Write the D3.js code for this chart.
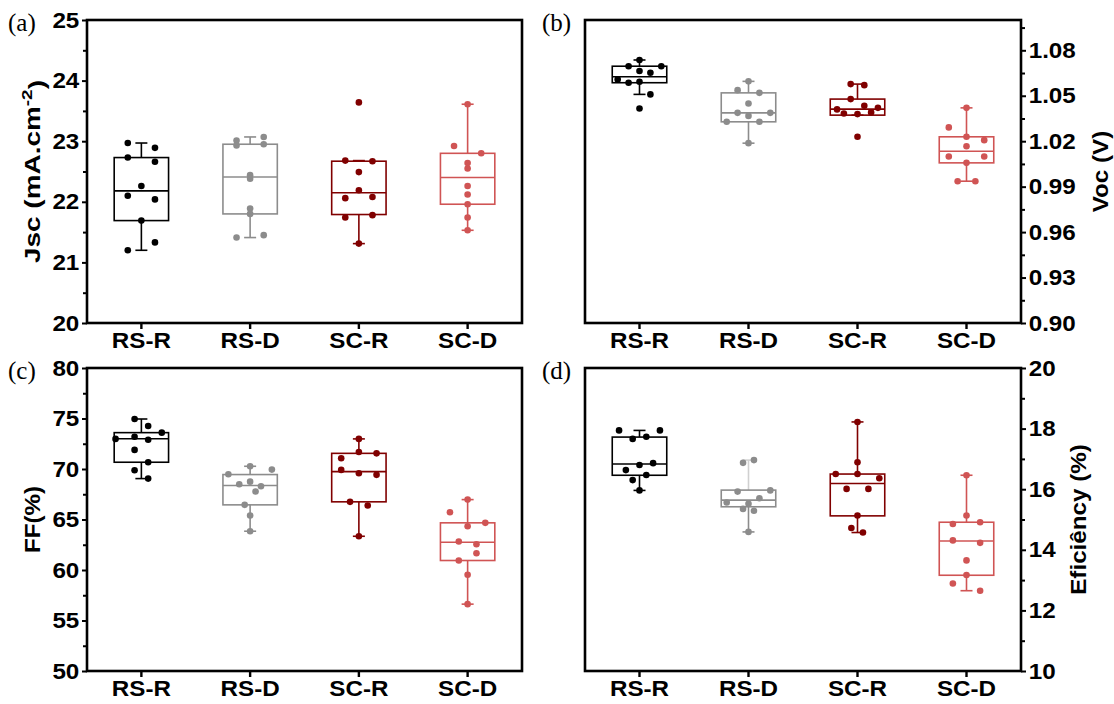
<!DOCTYPE html>
<html>
<head>
<meta charset="utf-8">
<script src="https://cdn.jsdelivr.net/npm/d3@7"></script>
<style>
  body { margin: 0; background: #fff; }
  svg text { font-family: "Liberation Sans", Arial, sans-serif; }
</style>
</head>
<body>
<svg id="chart" width="1114" height="704"></svg>
<script>
// ---- data ----------------------------------------------------------------
const categories = ["RS-R", "RS-D", "SC-R", "SC-D"];
const groupColors = ["#000000", "#8c8c8c", "#800000", "#d05454"];

// box statistics per category: [whisker low, Q1, median, Q3, whisker high]
// point lanes: horizontal slot of each dot inside its category (overlap spread)

// (a) short-circuit current density
const jscValues = [
  [22.97, 22.89, 22.73, 22.66, 22.26, 22.10, 22.04, 21.69, 21.33, 21.20],
  [23.01, 22.93, 23.07, 22.95, 22.44, 22.38, 21.89, 21.80, 21.41, 21.45],
  [23.64, 22.68, 22.67, 22.49, 22.19, 22.06, 22.08, 21.74, 21.78, 21.31],
  [23.61, 22.92, 22.80, 22.64, 22.55, 22.26, 22.12, 21.96, 21.74, 21.53]
];
const jscLanes = [
  [-2, 2, -2, 2, 0, -2, 2, 0, 2, -2],
  [-2, -2, 2, 2, 0, 0, 0, 0, -2, 2],
  [0, -2, 2, 0, 0, -2, 2, -2, 2, 0],
  [0, -2, 2, 0, 0, 0, 0, 0, 0, 0]
];
const jscBoxes = [
  [21.20, 21.69, 22.18, 22.73, 22.97],
  [21.41, 21.80, 22.41, 22.95, 23.07],
  [21.31, 21.79, 22.15, 22.67, 22.68],
  [21.53, 21.96, 22.40, 22.80, 23.61]
];

// (b) open-circuit voltage
const vocValues = [
  [1.0736, 1.0695, 1.0695, 1.0663, 1.0652, 1.0608, 1.0586, 1.0592, 1.0509, 1.0416],
  [1.0595, 1.0537, 1.0519, 1.0449, 1.0387, 1.0387, 1.0367, 1.0328, 1.0328, 1.0187],
  [1.0577, 1.0570, 1.0478, 1.0410, 1.0434, 1.0420, 1.0383, 1.0379, 1.0390, 1.0229],
  [1.0420, 1.0291, 1.0229, 1.0207, 1.0167, 1.0099, 1.0099, 1.0057, 0.9936, 0.9936]
];
const vocLanes = [
  [0, -1.6, 3.2, 0, 1.6, -3.2, -1.6, 0, 1.6, 0],
  [0, -1.6, 1.6, 0, -1.6, 3.2, 0, -3.2, 1.6, 0],
  [-1, 1, -1, -3, 1, 3, -2, 0, 2, 0],
  [0, -2.6, 0, 2.6, 0, -2.6, 2.6, 0, -1.3, 1.3]
];
const vocBoxes = [
  [1.0509, 1.0586, 1.0625, 1.0695, 1.0736],
  [1.0187, 1.0328, 1.0387, 1.0519, 1.0595],
  [1.0372, 1.0372, 1.0412, 1.0478, 1.0577],
  [0.9936, 1.0057, 1.0134, 1.0229, 1.0420]
];

// (c) fill factor
const ffValues = [
  [74.95, 74.26, 73.60, 72.98, 73.20, 72.90, 71.89, 70.67, 69.87, 69.05],
  [70.27, 69.48, 69.94, 68.49, 68.75, 68.29, 67.77, 66.45, 65.39, 63.84],
  [72.98, 71.69, 71.55, 71.06, 69.91, 69.58, 69.42, 66.75, 66.38, 63.34],
  [66.97, 65.72, 64.67, 64.33, 62.82, 62.55, 61.66, 60.94, 59.53, 56.62]
];
const ffLanes = [
  [-1, 1, 3, -3.8, -1, 1, -1, 1, -1, 1],
  [0, -3.2, 3.2, -1.6, 0, 1.6, 0.8, -0.8, 0, 0],
  [0, 0, 2.6, -2.6, -2.6, 0, 2.6, -1.3, 1.3, 0],
  [0, -2.6, 2.6, 0, -1.3, 1.3, 1.3, -1.3, 0, 0]
];
const ffBoxes = [
  [69.05, 70.67, 73.00, 73.60, 74.95],
  [63.84, 66.45, 68.36, 69.45, 70.27],
  [63.34, 66.75, 69.74, 71.55, 72.98],
  [56.62, 60.94, 62.75, 64.67, 66.97]
];

// (d) power conversion efficiency
const effValues = [
  [17.94, 17.94, 17.66, 17.73, 16.86, 16.80, 16.63, 16.47, 16.30, 15.96],
  [16.87, 16.96, 15.92, 15.96, 15.70, 15.56, 15.52, 15.35, 15.29, 14.59],
  [18.22, 16.89, 16.50, 16.50, 16.36, 16.01, 16.01, 15.13, 14.72, 14.57],
  [16.46, 15.13, 14.85, 14.91, 14.31, 14.23, 13.65, 13.17, 12.89, 12.65]
];
const effLanes = [
  [-3, 3, -1, 1, 2, 0, -2, 1, -1, 0],
  [-0.8, 0.8, -1.6, 3.2, 1.6, -3.2, 0, -0.8, 0.8, 0],
  [0, 0, -3.2, 0, 3.2, -1.6, 1.6, 0, -0.9, 0.8],
  [0, 0, -2, 2, -2, 2, 0, 0, -2, 2]
];
const effBoxes = [
  [15.96, 16.46, 16.83, 17.72, 17.94],
  [14.59, 15.42, 15.64, 15.97, 16.96],
  [14.57, 15.12, 16.19, 16.50, 18.22],
  [12.65, 13.16, 14.29, 14.91, 16.46]
];

// axis ticks
const jscTicks = [20, 21, 22, 23, 24, 25];
const vocTicks = [0.90, 0.93, 0.96, 0.99, 1.02, 1.05, 1.08];
const ffTicks = [50, 55, 60, 65, 70, 75, 80];
const effTicks = [10, 12, 14, 16, 18, 20];

// ---- drawing -------------------------------------------------------------
const svg = d3.select("#chart");
const FONT = 22, STRETCH = 1.1;

const panels = [
  { tag: "(a)", tagX: 8, tagY: 31, left: 87, right: 522, top: 20, bottom: 323, side: "left",
    domain: [20, 25], ticks: jscTicks, minorStep: 0.5, fmt: d3.format("d"),
    values: jscValues, lanes: jscLanes, boxes: jscBoxes,
    title: ["Jsc (mA.cm", "-2", ")"], titleX: 32, titleStretch: 1.27 },
  { tag: "(b)", tagX: 542, tagY: 31, left: 585, right: 1021, top: 20, bottom: 323, side: "right",
    domain: [0.90, 1.10], ticks: vocTicks, minorStep: 0.015, fmt: d3.format(".2f"),
    values: vocValues, lanes: vocLanes, boxes: vocBoxes,
    title: ["Voc (V)"], titleX: 1100, titleStretch: 1.1 },
  { tag: "(c)", tagX: 8, tagY: 379, left: 87, right: 522, top: 368, bottom: 671, side: "left",
    domain: [50, 80], ticks: ffTicks, minorStep: 2.5, fmt: d3.format("d"),
    values: ffValues, lanes: ffLanes, boxes: ffBoxes,
    title: ["FF(%)"], titleX: 32, titleStretch: 1.1 },
  { tag: "(d)", tagX: 542, tagY: 379, left: 585, right: 1021, top: 368, bottom: 671, side: "right",
    domain: [10, 20], ticks: effTicks, minorStep: 1, fmt: d3.format("d"),
    values: effValues, lanes: effLanes, boxes: effBoxes,
    title: ["Eficiêncy (%)"], titleX: 1078, titleStretch: 1.1,
    fadedUpper: 1 }
];

function stretchText(sel) {
  sel.selectAll("text")
    .attr("transform", `scale(${STRETCH},1)`)
    .style("font-size", FONT + "px")
    .style("font-weight", "bold")
    .attr("fill", "#000");
}

panels.forEach(p => {
  const g = svg.append("g");
  const x = d3.scaleBand().domain(categories).range([p.left, p.right]).padding(0);
  const y = d3.scaleLinear().domain(p.domain).range([p.bottom, p.top]);
  const bw = x.bandwidth();
  const boxW = bw * 0.5;
  const capW = 12;
  const laneUnit = bw / 16;

  // boxes with whiskers
  categories.forEach((cat, i) => {
    const [lo, q1, med, q3, hi] = p.boxes[i];
    const cx = x(cat) + bw / 2;
    const col = groupColors[i];
    const bg = g.append("g").attr("stroke", col).attr("fill", "none").attr("stroke-width", 1.6);
    const upperCol = p.fadedUpper === i ? "#d0d0d0" : col;
    bg.append("line").attr("x1", cx).attr("x2", cx).attr("y1", y(q3)).attr("y2", y(hi)).attr("stroke", upperCol);
    bg.append("line").attr("x1", cx).attr("x2", cx).attr("y1", y(q1)).attr("y2", y(lo));
    bg.append("line").attr("x1", cx - capW / 2).attr("x2", cx + capW / 2).attr("y1", y(hi)).attr("y2", y(hi)).attr("stroke", upperCol);
    bg.append("line").attr("x1", cx - capW / 2).attr("x2", cx + capW / 2).attr("y1", y(lo)).attr("y2", y(lo));
    bg.append("rect").attr("x", cx - boxW / 2).attr("width", boxW)
      .attr("y", y(q3)).attr("height", y(q1) - y(q3));
    bg.append("line").attr("x1", cx - boxW / 2).attr("x2", cx + boxW / 2).attr("y1", y(med)).attr("y2", y(med));
  });

  // individual measurements
  categories.forEach((cat, i) => {
    const cx = x(cat) + bw / 2;
    g.append("g").selectAll("circle")
      .data(p.values[i].map((v, k) => ({ v, lane: p.lanes[i][k] })))
      .join("circle")
      .attr("cx", d => cx + d.lane * laneUnit)
      .attr("cy", d => y(d.v))
      .attr("r", 3.3)
      .attr("fill", groupColors[i]);
  });

  // frame
  g.append("rect")
    .attr("x", p.left).attr("y", p.top)
    .attr("width", p.right - p.left).attr("height", p.bottom - p.top)
    .attr("fill", "none").attr("stroke", "#000").attr("stroke-width", 2.6);

  // value axis (major + minor ticks)
  const minor = d3.range(p.domain[0], p.domain[1] + 1e-9, p.minorStep)
    .filter(v => !p.ticks.some(t => Math.abs(t - v) < 1e-9));
  const isLeft = p.side === "left";
  const axisX = isLeft ? p.left : p.right;
  const mk = isLeft ? d3.axisLeft : d3.axisRight;

  const minorAxis = g.append("g").attr("transform", `translate(${axisX},0)`)
    .call(mk(y).tickValues(minor).tickSize(4).tickFormat(""));
  minorAxis.select(".domain").remove();
  minorAxis.selectAll("line").attr("stroke-width", 2);

  const majorAxis = g.append("g").attr("transform", `translate(${axisX},0)`)
    .call(mk(y).tickValues(p.ticks).tickSize(5).tickPadding(2).tickFormat(p.fmt));
  majorAxis.select(".domain").remove();
  majorAxis.selectAll("line").attr("stroke-width", 2);
  stretchText(majorAxis);

  // category axis
  const xAxis = g.append("g").attr("transform", `translate(0,${p.bottom})`)
    .call(d3.axisBottom(x).tickSize(6).tickPadding(3));
  xAxis.select(".domain").remove();
  xAxis.selectAll("line").attr("stroke-width", 2.4);
  stretchText(xAxis);

  // axis title
  const midY = (p.top + p.bottom) / 2;
  const t = g.append("text")
    .attr("transform", `translate(${p.titleX},${midY}) rotate(-90) scale(${p.titleStretch},1)`)
    .attr("text-anchor", "middle")
    .attr("dy", "0.36em")
    .style("font-size", FONT + "px")
    .style("font-weight", "bold");
  t.append("tspan").text(p.title[0]);
  if (p.title.length > 1) {
    t.append("tspan").attr("dy", "-0.55em").style("font-size", "15px").text(p.title[1]);
    t.append("tspan").attr("dy", "0.55em").text(p.title[2]);
  }

  // panel tag
  svg.append("text")
    .attr("x", p.tagX).attr("y", p.tagY)
    .style("font-family", "'Liberation Serif', 'Times New Roman', serif")
    .style("font-size", "25px")
    .text(p.tag);
});
</script>
</body>
</html>
